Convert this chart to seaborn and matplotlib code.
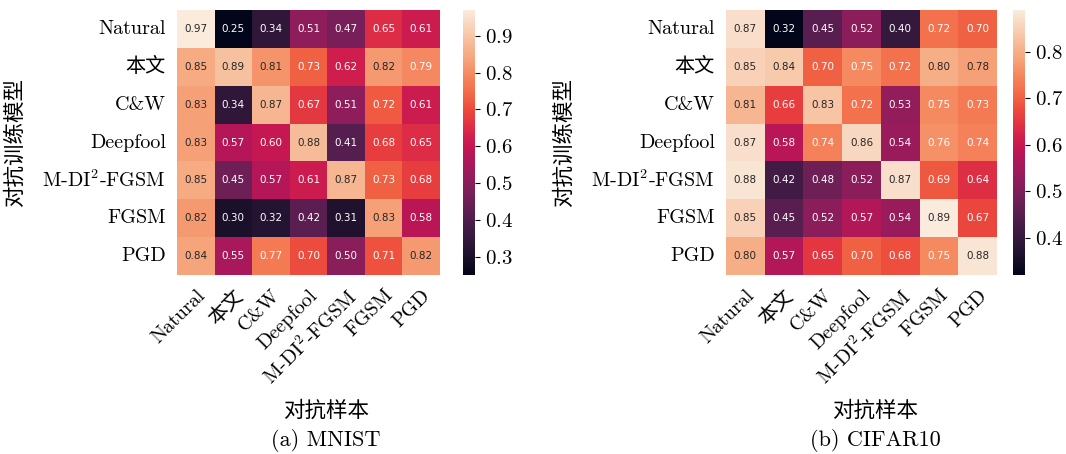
import numpy as np
import matplotlib
matplotlib.use('Agg')
import matplotlib.pyplot as plt
from matplotlib.ticker import MultipleLocator
import seaborn as sns

# labels (rows: adversarially trained model, cols: adversarial examples)
labels = ['Natural', '本文', 'C&W', 'Deepfool', r'M-DI$^2$-FGSM', 'FGSM', 'PGD']

mnist = [
    [0.97, 0.25, 0.34, 0.51, 0.47, 0.65, 0.61],
    [0.85, 0.89, 0.81, 0.73, 0.62, 0.82, 0.79],
    [0.83, 0.34, 0.87, 0.67, 0.51, 0.72, 0.61],
    [0.83, 0.57, 0.60, 0.88, 0.41, 0.68, 0.65],
    [0.85, 0.45, 0.57, 0.61, 0.87, 0.73, 0.68],
    [0.82, 0.30, 0.32, 0.42, 0.31, 0.83, 0.58],
    [0.84, 0.55, 0.77, 0.70, 0.50, 0.71, 0.82],
]

cifar10 = [
    [0.87, 0.32, 0.45, 0.52, 0.40, 0.72, 0.70],
    [0.85, 0.84, 0.70, 0.75, 0.72, 0.80, 0.78],
    [0.81, 0.66, 0.83, 0.72, 0.53, 0.75, 0.73],
    [0.87, 0.58, 0.74, 0.86, 0.54, 0.76, 0.74],
    [0.88, 0.42, 0.48, 0.52, 0.87, 0.69, 0.64],
    [0.85, 0.45, 0.52, 0.57, 0.54, 0.89, 0.67],
    [0.80, 0.57, 0.65, 0.70, 0.68, 0.75, 0.88],
]

captions = ['(a) MNIST', '(b) CIFAR10']

plt.rcParams['font.family'] = ['cmr10', 'Noto Sans CJK SC', 'DejaVu Sans']
plt.rcParams['mathtext.fontset'] = 'cm'
plt.rcParams['axes.formatter.use_mathtext'] = True
plt.rcParams['axes.unicode_minus'] = False

W, H = 1066, 454
fig = plt.figure(figsize=(W / 100, H / 100), dpi=100)

# pixel boxes: (heatmap left, heatmap right, cbar left, cbar right)
boxes = [(177, 440, 463, 475), (726, 997, 1013, 1025)]
top, bottom = 10, 275

for data, cap, (x0, x1, c0, c1) in zip([mnist, cifar10], captions, boxes):
    ax = fig.add_axes([x0 / W, 1 - bottom / H, (x1 - x0) / W, (bottom - top) / H])
    cax = fig.add_axes([c0 / W, 1 - bottom / H, (c1 - c0) / W, (bottom - top) / H])
    sns.heatmap(np.array(data), ax=ax, cbar_ax=cax, annot=True, fmt='.2f',
                annot_kws={'fontsize': 7.5, 'family': 'DejaVu Sans'},
                xticklabels=labels, yticklabels=labels)
    ax.tick_params(length=0, pad=8, labelsize=14.5)
    plt.setp(ax.get_xticklabels(), rotation=45, ha='right', rotation_mode='anchor')
    plt.setp(ax.get_yticklabels(), rotation=0)
    cax.yaxis.set_major_locator(MultipleLocator(0.1))
    cax.tick_params(labelsize=15)

    cx = (x0 + c1) / 2 / W
    fig.text(cx, 1 - 410 / H, '对抗样本', ha='center', va='center', fontsize=15.5)
    fig.text(cx, 1 - 441 / H, cap, ha='center', va='center', fontsize=16)
    fig.text((x0 - 162) / W, 1 - (top + bottom) / 2 / H, '对抗训练模型',
             rotation=90, ha='center', va='center', fontsize=15.5)

fig.savefig('out.png', dpi=100)
